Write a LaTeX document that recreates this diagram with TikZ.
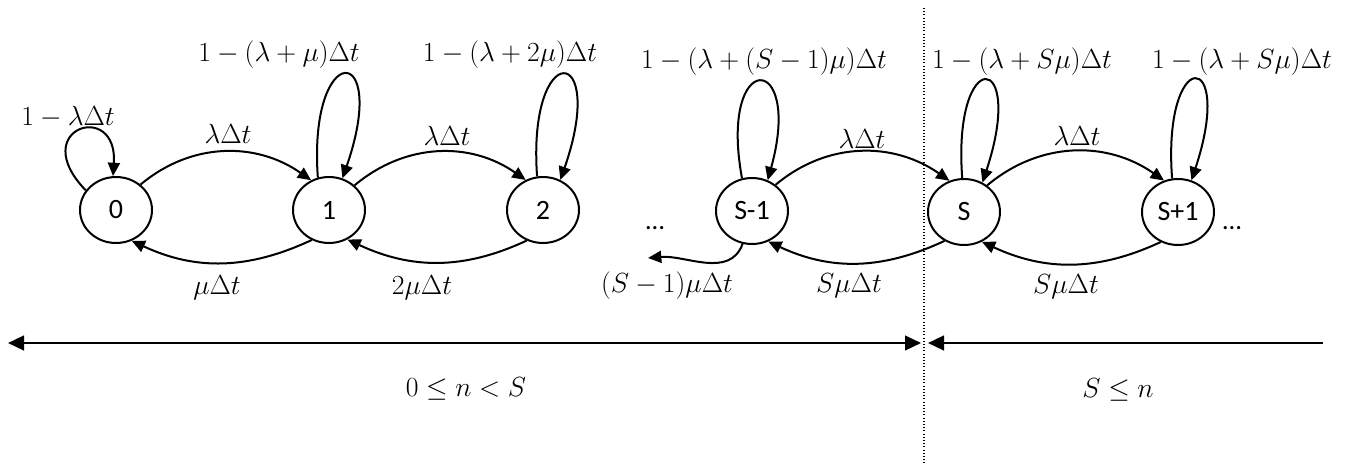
\documentclass[tikz,border=0pt]{standalone}
\usepackage{fontspec}
\newfontfamily\nodefont{Carlito}
\usetikzlibrary{arrows.meta,shapes.geometric}
\begin{document}
\begin{tikzpicture}[x=0.75pt,y=0.75pt,
  st/.style={draw,ellipse,line width=1.5pt,minimum width=54pt,minimum height=49.5pt,inner sep=0pt,font=\nodefont\fontsize{21}{24}\selectfont},
  lab/.style={inner sep=0pt,font=\fontsize{20}{24}\selectfont},
  dots/.style={inner sep=0pt,font=\nodefont\fontsize{20}{22}\selectfont},
  arr/.style={line width=1.5pt,-{Triangle[length=10pt,width=9pt]}},
  axis/.style={line width=1.8pt},
  divider/.style={line width=0.8pt,dash pattern=on 0.8pt off 1.6pt}]
\useasboundingbox (0,0) rectangle (1356,-464);

% states
\node[st] (n0) at (116,-210) {0};
\node[st] (n1) at (329,-210) {1};
\node[st] (n2) at (543,-210) {2};
\node[st] (nSm) at (752,-211) {S-1};
\node[st] (nS) at (964,-212) {S};
\node[st] (nSp) at (1178,-212) {S+1};

\node[dots] (d1) at (655,-228) {…};
\node[dots] (d2) at (1232,-228) {…};

% forward transitions
\draw[arr] (n0.46) to[out=40,in=145] (n1.121);
\draw[arr] (n1.44) to[out=40,in=145] (n2.120);
\draw[arr] (nSm.48) to[out=40,in=145] (nS.115);
\draw[arr] (nS.49) to[out=40,in=145] (nSp.114);

% backward transitions
\draw[arr] (n1.240) to[out=205,in=-25] (n0.297);
\draw[arr] (n2.242) to[out=205,in=-25] (n1.302);
\draw[arr] (nS.236) to[out=205,in=-25] (nSm.298);
\draw[arr] (nSp.240) to[out=205,in=-25] (nS.301);
\coordinate (e) at (648,-258);
\draw[arr] (nSm.254) to[out=250,in=5] (e);

% self loops
\draw[arr] (n0.147) .. controls +(-60,62) and +(5,77) .. (n0.95);
\draw[arr] (n1.109) .. controls +(-10,138) and +(48,138) .. (n1.67);
\draw[arr] (n2.100) .. controls +(-10,138) and +(48,138) .. (n2.60);
\draw[arr] (nSm.107) .. controls +(-24,130) and +(36,130) .. (nSm.63);
\draw[arr] (nS.93) .. controls +(-10,133) and +(44,133) .. (nS.58);
\draw[arr] (nSp.100) .. controls +(-10,133) and +(44,133) .. (nSp.67);

% labels
\node[lab] (l0) at (68,-117) {$1-\lambda\Delta t$};
\node[lab] (l1) at (279,-55) {$1-(\lambda+\mu)\Delta t$};
\node[lab] (l2) at (510,-55) {$1-(\lambda+2\mu)\Delta t$};
\node[lab] (l3) at (764,-62) {$1-(\lambda+(S-1)\mu)\Delta t$};
\node[lab] (l4) at (1022,-62) {$1-(\lambda+S\mu)\Delta t$};
\node[lab] (l5) at (1242,-62) {$1-(\lambda+S\mu)\Delta t$};

\node[lab] (f1) at (228,-134) {$\lambda\Delta t$};
\node[lab] (f2) at (447,-136) {$\lambda\Delta t$};
\node[lab] (f3) at (862,-139) {$\lambda\Delta t$};
\node[lab] (f4) at (1077,-136) {$\lambda\Delta t$};

\node[lab] (b1) at (217,-288) {$\mu\Delta t$};
\node[lab] (b2) at (422,-288) {$2\mu\Delta t$};
\node[lab] (b3) at (667,-286) {$(S-1)\mu\Delta t$};
\node[lab] (b4) at (849,-286) {$S\mu\Delta t$};
\node[lab] (b5) at (1066,-287) {$S\mu\Delta t$};

% ranges
\coordinate (a1) at (8,-343);
\coordinate (a2) at (921,-343);
\coordinate (a3) at (928,-343);
\coordinate (a4) at (1323,-343);
\draw[axis,{Triangle[length=12pt,width=11pt]}-{Triangle[length=12pt,width=11pt]}] (a1) -- (a2);
\draw[axis,{Triangle[length=12pt,width=11pt]}-] (a3) -- (a4);
\coordinate (v1) at (924,-8);
\coordinate (v2) at (924,-464);
\draw[divider] (v1) -- (v2);

\node[lab] (r1) at (466,-389) {$0\leq n<S$};
\node[lab] (r2) at (1118,-390) {$S\leq n$};
\end{tikzpicture}
\end{document}
